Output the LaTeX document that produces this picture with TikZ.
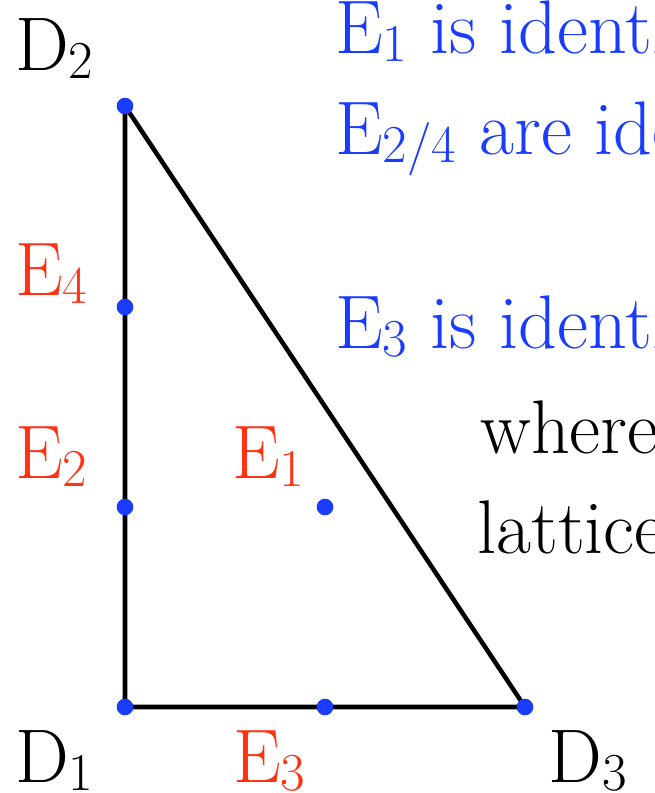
\documentclass[tikz,border=0pt]{standalone}
\usepackage{fontspec}
\usetikzlibrary{positioning}
\definecolor{dotblue}{RGB}{25,60,255}
\definecolor{labred}{RGB}{255,50,20}
\newcommand{\lsub}[1]{\raisebox{-0.11em}{\fontsize{40}{44}\selectfont #1}}

\begin{document}
\begin{tikzpicture}[
    x=0.75pt, y=-0.75pt,
    vertex/.style={circle, fill=dotblue, inner sep=0pt, minimum size=12.5pt},
    side/.style={line width=3.4pt, line cap=round, line join=round},
    lab/.style={anchor=base west, inner sep=0pt, font=\fontsize{57}{66}\selectfont},
    elab/.style={lab, text=labred},
    note/.style={lab, text=dotblue}
]
\useasboundingbox (0,0) rectangle (654,793);
\clip (0,0) rectangle (654,793);

% Points of the triangle
\coordinate (d2) at (125,106);
\coordinate (e4) at (125,307);
\coordinate (e2) at (125,507);
\coordinate (d1) at (125,707);
\coordinate (e3) at (325,707);
\coordinate (d3) at (525,707);
\coordinate (e1) at (325,507);

% Sides
\draw[side] (d1) -- (d2) -- (d3) -- cycle;

% Dots
\foreach \p in {d1,d2,d3,e1,e2,e3,e4}
  \node[vertex] (dot-\p) at (\p) {};

% Labels
\node[lab] (ld2) at (15,70) {D\lsub{2}};
\node[lab] (ld1) at (15,782) {D\lsub{1}};
\node[lab] (ld3) at (548,782) {D\lsub{3}};
\node[elab] (le4) at (15,295) {E\lsub{4}};
\node[elab] (le2) at (15,478) {E\lsub{2}};
\node[elab] (le1) at (232,478) {E\lsub{1}};
\node[elab] (le3) at (233,782) {E\lsub{3}};

% Text on the right
\node[note] (n1) at (335,53) {E\lsub{1} is identified};
\node[note] (n2) at (335,154) {E\lsub{2/4} are identified};
\node[note] (n3) at (335,348) {E\lsub{3} is identified};
\node[lab] (n4) at (480,453) {where};
\node[lab] (n5) at (477,553) {lattice};

\end{tikzpicture}
\end{document}
